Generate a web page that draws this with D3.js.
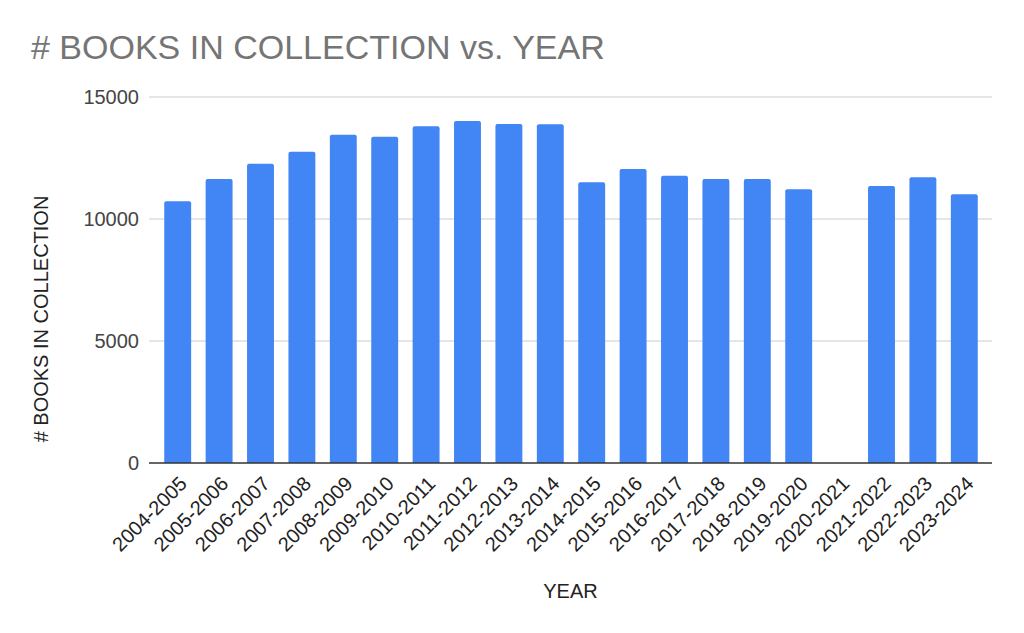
<!DOCTYPE html>
<html>
<head>
<meta charset="utf-8">
<script src="https://cdn.jsdelivr.net/npm/d3@7"></script>
<style>
  html, body { margin: 0; padding: 0; background: #ffffff; }
  svg { display: block; font-family: "Liberation Sans", Arial, sans-serif; }
</style>
</head>
<body>
<svg id="chart" width="1024" height="633"></svg>
<script>
const years = ["2004-2005","2005-2006","2006-2007","2007-2008","2008-2009","2009-2010","2010-2011","2011-2012","2012-2013","2013-2014","2014-2015","2015-2016","2016-2017","2017-2018","2018-2019","2019-2020","2020-2021","2021-2022","2022-2023","2023-2024"];
const books = [10725, 11640, 12265, 12760, 13455, 13375, 13800, 14015, 13890, 13880, 11505, 12050, 11775, 11640, 11640, 11215, null, 11350, 11710, 11010];
const yTicks = [0, 5000, 10000, 15000];
const titleText = "# BOOKS IN COLLECTION vs. YEAR";
const xTitle = "YEAR";
const yTitle = "# BOOKS IN COLLECTION";

const svg = d3.select("#chart");
svg.append("rect").attr("width", 1024).attr("height", 633).attr("fill", "#ffffff");

const gridLeft = 149, gridRight = 992;
const x = d3.scaleBand().domain(years).range([157, 985]).paddingInner(0.35).paddingOuter(0.175);
const y = d3.scaleLinear().domain([0, 15000]).range([463, 97]);

// gridlines
svg.append("g").selectAll("line").data(yTicks.filter(t => t !== 0)).join("line")
  .attr("x1", gridLeft).attr("x2", gridRight)
  .attr("y1", d => y(d)).attr("y2", d => y(d))
  .attr("stroke", "#cccccc").attr("stroke-width", 1);

// y tick labels via axis
const yAxis = d3.axisLeft(y).tickValues(yTicks).tickSize(0).tickPadding(0).tickFormat(d3.format("d"));
const gy = svg.append("g").attr("transform", `translate(139,0)`).call(yAxis);
gy.select(".domain").remove();
gy.selectAll("text").attr("font-size", 20).attr("fill", "#444444")
  .attr("font-family", "'Liberation Sans', Arial, sans-serif");

// bars
const r = 2;
const bw = x.bandwidth();
svg.append("g").selectAll("path").data(years.map((c, i) => ({c, v: books[i]})).filter(d => d.v != null)).join("path")
  .attr("fill", "#4285f4")
  .attr("d", d => {
    const x0 = x(d.c), x1 = x0 + bw, y0 = y(d.v), yb = y(0);
    return `M${x0},${yb}V${y0 + r}Q${x0},${y0} ${x0 + r},${y0}H${x1 - r}Q${x1},${y0} ${x1},${y0 + r}V${yb}Z`;
  });

// baseline
svg.append("line").attr("x1", gridLeft).attr("x2", gridRight)
  .attr("y1", y(0)).attr("y2", y(0)).attr("stroke", "#333333").attr("stroke-width", 1.5);

// x tick labels
const xAxis = d3.axisBottom(x).tickSize(0).tickPadding(0);
const gx = svg.append("g").attr("transform", `translate(0,${y(0)})`).call(xAxis);
gx.select(".domain").remove();
gx.selectAll(".tick text")
  .attr("font-size", 20).attr("fill", "#222222")
  .attr("font-family", "'Liberation Sans', Arial, sans-serif")
  .attr("text-anchor", "end")
  .attr("dy", null).attr("y", null)
  .attr("transform", "translate(10.5,22) rotate(-45)");

// title
svg.append("text").attr("x", 31).attr("y", 59).attr("font-size", 34).attr("fill", "#757575")
  .text(titleText);

// axis titles
svg.append("text").attr("x", 570.5).attr("y", 597.5).attr("text-anchor", "middle")
  .attr("font-size", 20).attr("fill", "#222222").text(xTitle);
svg.append("text").attr("transform", "translate(48,319) rotate(-90)").attr("text-anchor", "middle")
  .attr("font-size", 20).attr("fill", "#222222").text(yTitle);
</script>
</body>
</html>
